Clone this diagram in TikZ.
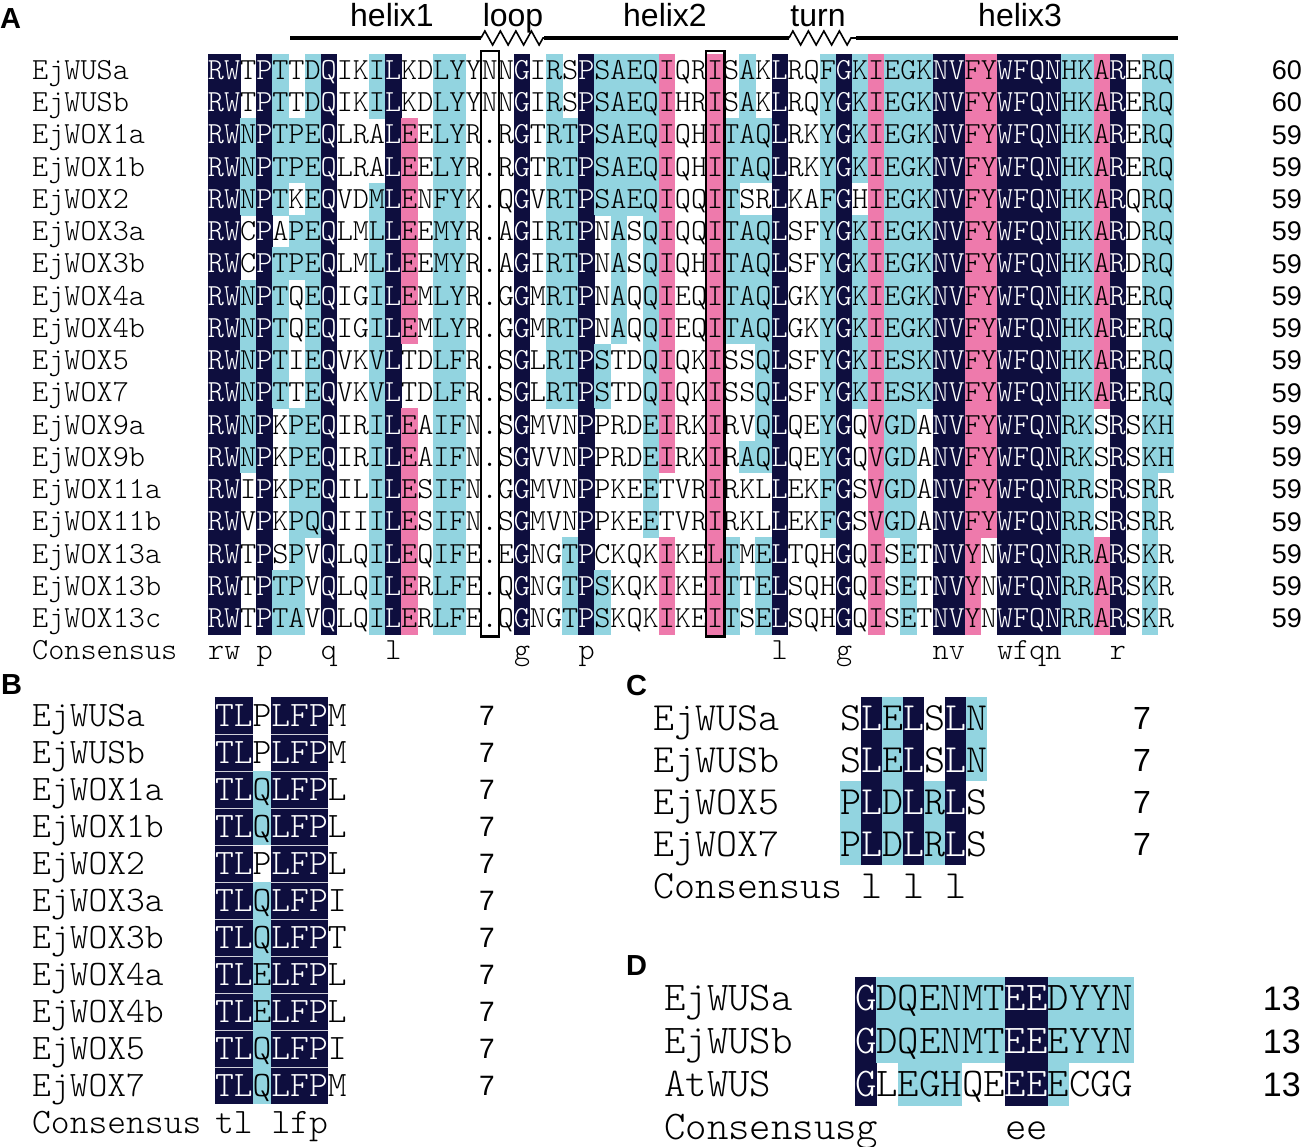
\documentclass[tikz,border=0pt]{standalone}
\usepackage{fontspec}
\newfontfamily\labfont{Liberation Sans}
\newfontfamily\seqff{Latin Modern Mono Light}
\usetikzlibrary{decorations.pathmorphing}
\definecolor{navyc}{RGB}{14,14,62}
\definecolor{pinkc}{RGB}{238,122,172}
\definecolor{bluec}{RGB}{146,212,224}
\newcount\cidx
\def\splitfirst#1#2\endsplit#3#4{\def#3{#1}\def#4{#2}}
\def\cN{N}\def\cP{P}\def\cB{B}
\def\seqrow#1#2#3#4{\cidx=0 \def\rowid{#1}\def\rowy{#2}\def\seqrest{#3}\def\colrest{#4}\loopcells}
\def\loopcells{%
  \ifx\seqrest\empty\else
    \expandafter\splitfirst\seqrest\endsplit\seqchar\seqrest
    \expandafter\splitfirst\colrest\endsplit\colchar\colrest
    \advance\cidx by 1\relax
    \drawcell
    \expandafter\loopcells
  \fi}
\def\drawcell{%
  \pgfmathsetmacro\cxl{\Xzero+(\the\cidx-1)*\CW}%
  \pgfmathsetmacro\cxm{\cxl+\CW/2}%
  \def\tcol{black}\def\fcol{}%
  \ifx\colchar\cN\def\fcol{navyc}\def\tcol{white}\fi
  \ifx\colchar\cP\def\fcol{pinkc}\fi
  \ifx\colchar\cB\def\fcol{bluec}\fi
  \ifx\fcol\empty\else\fill[\fcol] (\cxl,\rowy-\HH) rectangle ++(\CW+0.4,2*\HH+0.4);\fi
  \edef\cellname{\rowid-\the\cidx}%
  \node[seqtxt,text=\tcol] (\cellname) at (\cxm,\rowy+\BL) {\seqchar};}
\def\prow#1#2#3#4#5#6{%
  \node[nametxt] (#1n) at (\NX,#2+\BL) {#3};
  \seqrow{#1}{#2}{#5}{#6}%
  \node[numtxt,anchor=\NUMANCH] (#1r) at (\NUMX,#2+\NBL) {#4};}
\def\cons#1#2#3{\node[nametxt] (#1) at ({\Xzero+(#2-1)*\CW},\consy+\BL) {#3};}
\begin{document}
\begin{tikzpicture}[x=1pt,y=-1pt,
  seqtxt/.style={font=\SF,inner sep=0pt,anchor=base},
  nametxt/.style={font=\SF,inner sep=0pt,anchor=base west},
  numtxt/.style={font=\NF,inner sep=0pt},
  panellab/.style={font=\labfont\bfseries\fontsize{29}{29}\selectfont,inner sep=0pt,anchor=base west},
  toplab/.style={font=\labfont\fontsize{32}{32}\selectfont,inner sep=0pt,anchor=base},
  helixline/.style={line width=3.2pt},
  zz/.style={line width=1.6pt,decorate,decoration={zigzag,segment length=15.5pt,amplitude=7pt}},
  boxline/.style={line width=2.4pt}]
\useasboundingbox (0,0) rectangle (1303,1147);
% ---------------- Panel A ----------------
\node[panellab] (labA) at (0,29) {A};
\node[toplab] (t1) at (392,27) {helix1};
\node[toplab] (t2) at (513,27) {loop};
\node[toplab] (t3) at (665,27) {helix2};
\node[toplab] (t4) at (818,27) {turn};
\node[toplab] (t5) at (1020,27) {helix3};
\coordinate (s0) at (290,38); \coordinate (s1) at (481,38); \coordinate (s2) at (544,38);
\coordinate (s3) at (789,38); \coordinate (s4) at (856,38); \coordinate (s5) at (1178,38);
\draw[helixline] (s0) -- (s1);
\draw[zz] (s1) -- (s2);
\draw[helixline] (s2) -- (s3);
\draw[zz] (s3) -- (s4);
\draw[helixline] (s4) -- (s5);
\def\Xzero{208}\def\CW{16.1}\def\HH{16.15}\def\BL{9.4}
\def\SF{\fontsize{30.7}{31}\selectfont\seqff}
\def\NF{\labfont\fontsize{27}{27}\selectfont}
\def\NX{32}\def\NUMX{1302}\def\NUMANCH{base east}\def\NBL{9.7}
\prow{A1}{70.0}{EjWUSa}{60}{RWTPTTDQIKILKDLYYNNGIRSPSAEQIQRISAKLRQFGKIEGKNVFYWFQNHKARERQ}{NNWNBWBNWWBNWWBBWWWNWBWNBBBBPWWPWBWNWWBNBPBBBNNPPNNNNBBPNWBB}
\prow{A2}{102.2}{EjWUSb}{60}{RWTPTTDQIKILKDLYYNNGIRSPSAEQIHRISAKLRQYGKIEGKNVFYWFQNHKARERQ}{NNWNBWBNWWBNWWBBWWWNWBWNBBBBPWWPWBWNWWBNBPBBBNNPPNNNNBBPNWBB}
\prow{A3}{134.5}{EjWOX1a}{59}{RWNPTPEQLRALEELYR.RGTRTPSAEQIQHITAQLRKYGKIEGKNVFYWFQNHKARERQ}{NNBNBBBNWWWNPWBBWWWNWBBNBBBBPWWPBBBNWWBNBPBBBNNPPNNNNBBPNWBB}
\prow{A4}{166.7}{EjWOX1b}{59}{RWNPTPEQLRALEELYR.RGTRTPSAEQIQHITAQLRKYGKIEGKNVFYWFQNHKARERQ}{NNBNBBBNWWWNPWBBWWWNWBBNBBBBPWWPBBBNWWBNBPBBBNNPPNNNNBBPNWBB}
\prow{A5}{199.0}{EjWOX2}{59}{RWNPTKEQVDMLENFYK.QGVRTPSAEQIQQITSRLKAFGHIEGKNVFYWFQNHKARQRQ}{NNBNBWBNWWBNPWBBWWWNWBBNBBBBPWWPBWWNWWBNWPBBBNNPPNNNNBBPNWBB}
\prow{A6}{231.2}{EjWOX3a}{59}{RWCPAPEQLMLLEEMYR.AGIRTPNASQIQQITAQLSFYGKIEGKNVFYWFQNHKARDRQ}{NNWNWBBNWWBNPWBBWWWNWBBNWBWBPWWPBBBNWWBNBPBBBNNPPNNNNBBPNWBB}
\prow{A7}{263.4}{EjWOX3b}{59}{RWCPTPEQLMLLEEMYR.AGIRTPNASQIQHITAQLSFYGKIEGKNVFYWFQNHKARDRQ}{NNWNBBBNWWBNPWBBWWWNWBBNWBWBPWWPBBBNWWBNBPBBBNNPPNNNNBBPNWBB}
\prow{A8}{295.7}{EjWOX4a}{59}{RWNPTQEQIGILEMLYR.GGMRTPNAQQIEQITAQLGKYGKIEGKNVFYWFQNHKARERQ}{NNBNBWBNWWBNPWBBWWWNWBBNWBWBPWWPBBBNWWBNBPBBBNNPPNNNNBBPNWBB}
\prow{A9}{327.9}{EjWOX4b}{59}{RWNPTQEQIGILEMLYR.GGMRTPNAQQIEQITAQLGKYGKIEGKNVFYWFQNHKARERQ}{NNBNBWBNWWBNPWBBWWWNWBBNWBWBPWWPBBBNWWBNBPBBBNNPPNNNNBBPNWBB}
\prow{A10}{360.2}{EjWOX5}{59}{RWNPTIEQVKVLTDLFR.SGLRTPSTDQIQKISSQLSFYGKIESKNVFYWFQNHKARERQ}{NNBNBWBNWWBNWWBBWWWNWBBNBWWBPWWPWWBNWWBNBPBBBNNPPNNNNBBPNWBB}
\prow{A11}{392.4}{EjWOX7}{59}{RWNPTTEQVKVLTDLFR.SGLRTPSTDQIQKISSQLSFYGKIESKNVFYWFQNHKARERQ}{NNBNBWBNWWBNWWBBWWWNWBBNBWWBPWWPWWBNWWBNBPBBBNNPPNNNNBBPNWBB}
\prow{A12}{424.6}{EjWOX9a}{59}{RWNPKPEQIRILEAIFN.SGMVNPPRDEIRKIRVQLQEYGQVGDANVFYWFQNRKSRSKH}{NNBNWBBNWWBNPWBBWWWNWWWNWWWBPWWPWWBNWWBNWPBBWNNPPNNNNBBWNWBB}
\prow{A13}{456.9}{EjWOX9b}{59}{RWNPKPEQIRILEAIFN.SGVVNPPRDEIRKIRAQLQEYGQVGDANVFYWFQNRKSRSKH}{NNBNWBBNWWBNPWBBWWWNWWWNWWWBPWWPWBBNWWBNWPBBWNNPPNNNNBBWNWBB}
\prow{A14}{489.1}{EjWOX11a}{59}{RWIPKPEQILILESIFN.GGMVNPPKEETVRIRKLLEKFGSVGDANVFYWFQNRRSRSRR}{NNWNWBBNWWBNPWBBWWWNWWWNWWWBWWWPWWWNWWBNWPBBWNNPPNNNNBBWNWBW}
\prow{A15}{521.4}{EjWOX11b}{59}{RWVPKPQQIIILESIFN.SGMVNPPKEETVRIRKLLEKFGSVGDANVFYWFQNRRSRSRR}{NNWNWBBNWWBNPWBBWWWNWWWNWWWBWWWPWWWNWWBNWPBBWNNPPNNNNBBWNWBW}
\prow{A16}{553.6}{EjWOX13a}{59}{RWTPSPVQLQILEQIFE.EGNGTPCKQKIKELTMELTQHGQISETNVYNWFQNRRARSKR}{NNWNWBWNWWBNPWBBWWWNWWBNWWWWPWWPBWBNWWWNWPWBWNNPWNNNNBBPNWBW}
\prow{A17}{585.8}{EjWOX13b}{59}{RWTPTPVQLQILERLFE.QGNGTPSKQKIKEITTELSQHGQISETNVYNWFQNRRARSKR}{NNWNBBWNWWBNPWBBWWWNWWBNBWWWPWWPBWBNWWWNWPWBWNNPWNNNNBBPNWBW}
\prow{A18}{618.1}{EjWOX13c}{59}{RWTPTAVQLQILERLFE.QGNGTPSKQKIKEITSELSQHGQISETNVYNWFQNRRARSKR}{NNWNBBWNWWBNPWBBWWWNWWBNBWWWPWWPBWBNWWWNWPWBWNNPWNNNNBBPNWBW}
\def\consy{650.3}
\node[nametxt] (Acons) at (\NX,\consy+\BL) {Consensus};
\cons{Ac1}{1}{rw}\cons{Ac2}{4}{p}\cons{Ac3}{8}{q}\cons{Ac4}{12}{l}\cons{Ac5}{20}{g}\cons{Ac6}{24}{p}
\cons{Ac7}{36}{l}\cons{Ac8}{40}{g}\cons{Ac9}{46}{nv}\cons{Ac10}{50}{wfqn}\cons{Ac11}{57}{r}
\draw[boxline] (480.7,51) rectangle (498.9,636.5);
\draw[boxline] (706.1,51) rectangle (724.3,636.5);
% ---------------- Panel B ----------------
\node[panellab] (labB) at (1,694) {B};
\def\Xzero{215}\def\CW{18.8}\def\HH{18.5}\def\BL{10.9}
\def\SF{\fontsize{35.8}{36}\selectfont\seqff}
\def\NF{\labfont\fontsize{28}{28}\selectfont}
\def\NX{32}\def\NUMX{487}\def\NUMANCH{base}\def\NBL{10}
\prow{B1}{715.5}{EjWUSa}{7}{TLPLFPM}{NNWNNNW}
\prow{B2}{752.5}{EjWUSb}{7}{TLPLFPM}{NNWNNNW}
\prow{B3}{789.5}{EjWOX1a}{7}{TLQLFPL}{NNBNNNW}
\prow{B4}{826.5}{EjWOX1b}{7}{TLQLFPL}{NNBNNNW}
\prow{B5}{863.5}{EjWOX2}{7}{TLPLFPL}{NNWNNNW}
\prow{B6}{900.5}{EjWOX3a}{7}{TLQLFPI}{NNBNNNW}
\prow{B7}{937.5}{EjWOX3b}{7}{TLQLFPT}{NNBNNNW}
\prow{B8}{974.5}{EjWOX4a}{7}{TLELFPL}{NNBNNNW}
\prow{B9}{1011.5}{EjWOX4b}{7}{TLELFPL}{NNBNNNW}
\prow{B10}{1048.5}{EjWOX5}{7}{TLQLFPI}{NNBNNNW}
\prow{B11}{1085.5}{EjWOX7}{7}{TLQLFPM}{NNBNNNW}
\foreach \k in {1,...,10}{
  \draw[white!80!navyc,line width=0.8pt] (215,697+37*\k) -- (252.6,697+37*\k);
  \draw[white!80!navyc,line width=0.8pt] (271.4,697+37*\k) -- (327.8,697+37*\k);}
\def\consy{1122.5}
\node[nametxt] (Bcons) at (\NX,\consy+\BL) {Consensus};
\cons{Bc1}{1}{tl}\cons{Bc2}{4}{lfp}
% ---------------- Panel C ----------------
\node[panellab] (labC) at (626,695) {C};
\def\Xzero{840}\def\CW{21}\def\HH{21}\def\BL{12.2}
\def\SF{\fontsize{40}{40}\selectfont\seqff}
\def\NF{\labfont\fontsize{32}{32}\selectfont}
\def\NX{653}\def\NUMX{1142}\def\NUMANCH{base}\def\NBL{11.5}
\prow{C1}{718}{EjWUSa}{7}{SLELSLN}{WNBNWNB}
\prow{C2}{760}{EjWUSb}{7}{SLELSLN}{WNBNWNB}
\prow{C3}{802}{EjWOX5}{7}{PLDLRLS}{BNBNBNW}
\prow{C4}{844}{EjWOX7}{7}{PLDLRLS}{BNBNBNW}
\def\consy{886}
\node[nametxt] (Ccons) at (\NX,\consy+\BL) {Consensus};
\cons{Cc1}{2}{l}\cons{Cc2}{4}{l}\cons{Cc3}{6}{l}
% ---------------- Panel D ----------------
\node[panellab] (labD) at (626,975) {D};
\def\Xzero{855}\def\CW{21.4}\def\HH{21.5}\def\BL{12.5}
\def\SF{\fontsize{40.8}{41}\selectfont\seqff}
\def\NF{\labfont\fontsize{34}{34}\selectfont}
\def\NX{664}\def\NUMX{1301}\def\NUMANCH{base east}\def\NBL{12.2}
\prow{D1}{998}{EjWUSa}{13}{GDQENMTEEDYYN}{NBBBBBBNNBBBB}
\prow{D2}{1041}{EjWUSb}{13}{GDQENMTEEEYYN}{NBBBBBBNNBBBB}
\prow{D3}{1084}{AtWUS}{13}{GLEGHQEEEECGG}{NWBBBWWNNBWWW}
\def\consy{1127}
\node[nametxt] (Dcons) at (\NX,\consy+\BL) {Consensusg};
\cons{Dc1}{8}{ee}
\end{tikzpicture}
\end{document}
